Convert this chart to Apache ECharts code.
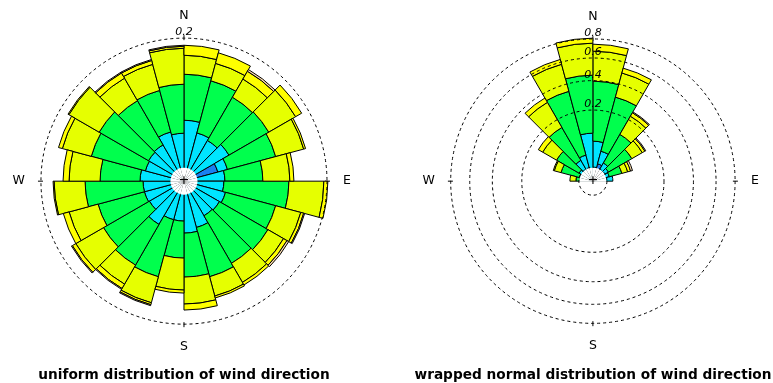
<!DOCTYPE html>
<html>
<head>
<meta charset="utf-8">
<script src="https://cdn.jsdelivr.net/npm/echarts@6/dist/echarts.min.js"></script>
<style>
  html, body { margin: 0; padding: 0; background: #fff; }
  #chart { width: 773px; height: 383px; }
</style>
</head>
<body>
<div id="chart"></div>
<script>
// direction bins (start of each 15 degree sector, clockwise from north)
const dirBins = ['0', '15', '30', '45', '60', '75', '90', '105', '120', '135', '150', '165',
  '180', '195', '210', '225', '240', '255', '270', '285', '300', '315', '330', '345'];
const compass = ['N', 'E', 'S', 'W'];
const chartTitles = ['uniform distribution of wind direction', 'wrapped normal distribution of wind direction'];

// density contributed by each speed class, per direction bin (left rose)
const uniBlue   = [0, 0, 0, 0, 0.0120, 0, 0, 0, 0, 0, 0, 0, 0, 0, 0, 0, 0, 0, 0, 0, 0, 0, 0, 0];
const uniCyan   = [0.0363, 0.0244, 0.0216, 0.0264, 0.0078, 0.0164, 0.0156, 0.0181, 0.0164, 0.0156, 0.0225, 0.0264,
  0.0156, 0.0156, 0.0244, 0.0156, 0.0164, 0.0164, 0.0189, 0.0156, 0.0164, 0.0172, 0.0254, 0.0225];
const uniGreen  = [0.0755, 0.0812, 0.0703, 0.0674, 0.0683, 0.0445, 0.0921, 0.0700, 0.0755, 0.0725, 0.0732, 0.0636,
  0.0423, 0.0801, 0.0675, 0.0689, 0.0610, 0.0793, 0.0500, 0.0744, 0.0774, 0.0673, 0.0609, 0.0694];
const uniLime   = [0.0432, 0.0398, 0.0441, 0.0687, 0.0621, 0.0488, 0.0837, 0.0549, 0.0373, 0.0456, 0.0426, 0.0577,
  0.0581, 0.0593, 0.0464, 0.0681, 0.0609, 0.0693, 0.0603, 0.0650, 0.0789, 0.0538, 0.0567, 0.0808];
const uniYellow = [0.0256, 0.0273, 0.0215, 0.0181, 0.0048, 0.0085, 0.0111, 0.0072, 0.0091, 0.0069, 0.0047, 0.0148,
  0.0065, 0.0050, 0.0119, 0.0099, 0.0143, 0.0026, 0.0138, 0.0100, 0.0027, 0.0143, 0.0096, 0.0053];
const uniPale   = [0, 0, 0.0050, 0, 0, 0, 0, 0.0024, 0.0047, 0, 0, 0, 0, 0.0025, 0.0024, 0.0025, 0, 0, 0, 0, 0, 0.0024, 0.0024, 0.0026];

// same for the wrapped normal rose (right)
const wnBlue   = [0, 0.0128, 0, 0, 0, 0, 0, 0, 0, 0, 0, 0, 0, 0, 0, 0, 0, 0, 0, 0, 0, 0, 0, 0];
const wnCyan   = [0.0633, 0.0252, 0.0174, 0.0128, 0.0114, 0.0158, 0, 0, 0, 0, 0, 0,
  0, 0, 0, 0, 0, 0, 0.0067, 0.0078, 0.0101, 0.0228, 0.0288, 0.0911];
const wnGreen  = [0.3323, 0.2614, 0.0979, 0.0673, 0.0242, 0, 0, 0, 0, 0, 0, 0,
  0, 0, 0, 0, 0, 0, 0.0047, 0.0353, 0.0597, 0.1293, 0.3133, 0.3533];
const wnLime   = [0.2729, 0.1968, 0.1072, 0.0484, 0.0157, 0, 0, 0, 0, 0, 0, 0,
  0, 0, 0, 0, 0, 0, 0.0095, 0.0202, 0.0633, 0.1755, 0.2370, 0.3089];
const wnYellow = [0.0739, 0.0453, 0.0244, 0.0139, 0.0089, 0, 0, 0, 0, 0, 0, 0,
  0, 0, 0, 0, 0, 0, 0, 0.0032, 0.0239, 0.0369, 0.0489, 0.0556];
const wnPale   = [0, 0, 0.0063, 0.0048, 0.0063, 0, 0, 0, 0, 0, 0, 0, 0, 0, 0, 0, 0, 0, 0, 0, 0, 0, 0, 0];

const classColors = ['#1A80F0', '#00E5FF', '#00FF4D', '#E6FF00', '#FFFF00', '#FFE0B3'];

// circle values (density) and which of them get a label
const uniCircles = [0.2];
const wnCircles = [0.0078, 0.2, 0.4, 0.6, 0.8];
const wnLabels = [0.2, 0.4, 0.6, 0.8];

const outerR = 150;   // px for the radius axis max
const holeR = 13.5;   // px, white hole in the middle
const font = 'DejaVu Sans';

// sector radius goes with sqrt of cumulative density (area proportional)
function radialStack(classes) {
  const cum = new Array(dirBins.length).fill(0);
  return classes.map(vals => vals.map((v, i) => {
    const inner = Math.sqrt(cum[i]);
    cum[i] += v;
    return v > 0 ? Math.sqrt(cum[i]) - inner : null;
  }));
}

function roseSeries(classes, polarIndex, stack, maxS) {
  const stacked = radialStack(classes);
  const list = stacked.map((data, k) => ({
    type: 'bar',
    coordinateSystem: 'polar',
    polarIndex: polarIndex,
    stack: stack,
    data: data,
    barCategoryGap: '0%',
    barGap: '-100%',
    itemStyle: { color: classColors[k], borderColor: '#000', borderWidth: 1 },
    emphasis: { disabled: true },
    animation: false
  }));
  // white disc over the middle
  list.push({
    type: 'bar',
    coordinateSystem: 'polar',
    polarIndex: polarIndex,
    data: dirBins.map(() => maxS * holeR / outerR),
    barCategoryGap: '0%',
    barGap: '-100%',
    z: 2.5,
    itemStyle: { color: '#fff', borderWidth: 0 },
    emphasis: { disabled: true },
    animation: false
  });
  return list;
}

const uniMax = Math.sqrt(0.22);
const wnMax = Math.sqrt(0.89);
const centers = [['23.8%', '47.3%'], ['76.7%', '47.3%']];

function barRadiusAxis(polarIndex, maxS, circles, labels) {
  return {
    polarIndex: polarIndex,
    type: 'value',
    min: 0,
    max: maxS,
    z: 3,
    axisLine: { show: false },
    axisTick: { show: false, customValues: circles.map(Math.sqrt) },
    axisLabel: {
      customValues: labels.map(Math.sqrt),
      formatter: v => (v * v).toFixed(1),
      margin: 0,
      align: 'center',
      verticalAlign: 'bottom',
      fontStyle: 'italic',
      fontSize: 11,
      fontFamily: font,
      color: '#000'
    },
    splitLine: { show: true, lineStyle: { color: '#000', width: 1, type: [3, 3] } }
  };
}

function barAngleAxis(polarIndex) {
  return {
    polarIndex: polarIndex,
    type: 'category',
    data: dirBins,
    startAngle: 90,
    clockwise: true,
    axisLine: { show: false },
    axisTick: { show: false },
    axisLabel: { show: false },
    splitLine: { show: false }
  };
}

function compassAngleAxis(polarIndex) {
  return {
    polarIndex: polarIndex,
    type: 'value',
    min: 0,
    max: 360,
    interval: 90,
    startAngle: 90,
    clockwise: true,
    axisLine: { show: false },
    axisTick: { show: true, length: 5, lineStyle: { color: '#000', width: 1 } },
    axisLabel: {
      margin: 18,
      formatter: v => compass[v / 90] || '',
      fontSize: 12.5,
      fontFamily: font,
      color: '#000'
    },
    splitLine: { show: false }
  };
}

const chart = echarts.init(document.getElementById('chart'), null, { renderer: 'canvas' });

const option = {
  backgroundColor: '#fff',
  animation: false,
  title: chartTitles.map((t, i) => ({
    text: t,
    left: i === 0 ? 184 : 593,
    top: 368,
    textAlign: 'center',
    padding: 0,
    textStyle: { fontSize: 13.7, fontWeight: 'bold', color: '#000', fontFamily: font }
  })),
  polar: [
    { center: centers[0], radius: outerR },
    { center: centers[0], radius: 141 },
    { center: centers[1], radius: outerR },
    { center: centers[1], radius: 140 }
  ],
  angleAxis: [barAngleAxis(0), compassAngleAxis(1), barAngleAxis(2), compassAngleAxis(3)],
  radiusAxis: [
    barRadiusAxis(0, uniMax, uniCircles, uniCircles),
    { polarIndex: 1, type: 'value', min: 0, max: 1, show: false },
    barRadiusAxis(2, wnMax, wnCircles, wnLabels),
    { polarIndex: 3, type: 'value', min: 0, max: 1, show: false }
  ],
  graphic: [
    { type: 'text', x: 184, y: 181, z: 10, style: { text: '+', font: '13px DejaVu Sans', fill: '#000', align: 'center', verticalAlign: 'middle' } },
    { type: 'text', x: 593, y: 181, z: 10, style: { text: '+', font: '13px DejaVu Sans', fill: '#000', align: 'center', verticalAlign: 'middle' } }
  ],
  series: [
    ...roseSeries([uniBlue, uniCyan, uniGreen, uniLime, uniYellow, uniPale], 0, 'uni', uniMax),
    ...roseSeries([wnBlue, wnCyan, wnGreen, wnLime, wnYellow, wnPale], 2, 'wn', wnMax)
  ]
};

chart.setOption(option);
</script>
</body>
</html>
